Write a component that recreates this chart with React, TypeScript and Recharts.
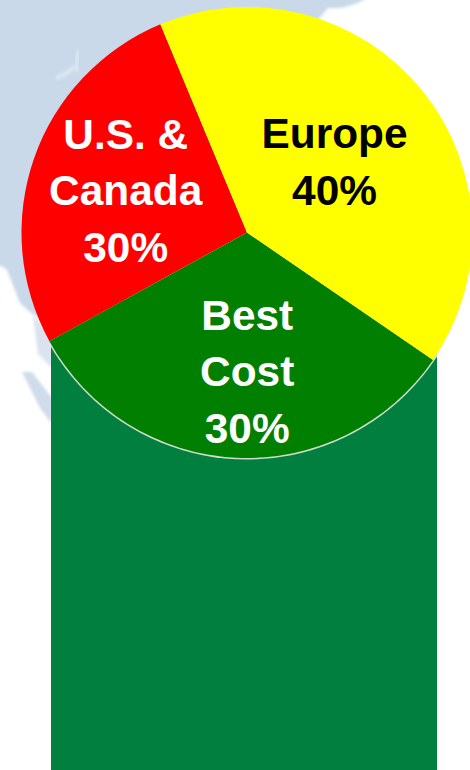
import React from "react";
import { PieChart, Pie, Cell } from "recharts";

const regions = ["U.S. & Canada", "Best Cost", "Europe"];
// Slice sizes as drawn in the picture (degrees of arc), printed labels below
const sliceSizes = [96.2, 116.8, 147];
const sliceColors = ["#ff0000", "#007f00", "#ffff00"];
const labelLines = [
  ["U.S. &", "Canada", "30%"],
  ["Best", "Cost", "30%"],
  ["Europe", "40%"],
];
const labelColors = ["#ffffff", "#ffffff", "#000000"];
const labelRadiusRatio = [0.57, 0.615, 0.5];
const labelShiftX = [0, 7, 0];

const data = regions.map((name, i) => ({ name, value: sliceSizes[i] }));

const FONT_SIZE = 42.4;
const LINE_GAP = 56.5;
const RAD = Math.PI / 180;

function renderLabel(props: any) {
  const { cx, cy, midAngle, outerRadius, index } = props;
  const r = outerRadius * labelRadiusRatio[index];
  const x = cx + r * Math.cos(midAngle * RAD) + labelShiftX[index];
  const y = cy - r * Math.sin(midAngle * RAD) + 0.5;
  const lines = labelLines[index];
  const top = y - ((lines.length - 1) * LINE_GAP) / 2;
  return (
    <text
      key={index}
      textAnchor="middle"
      fontFamily="'Liberation Sans', Arial, sans-serif"
      fontWeight={700}
      fontSize={FONT_SIZE}
      fill={labelColors[index]}
    >
      {lines.map((line, i) => (
        <tspan key={line} x={x} y={top + i * LINE_GAP} dominantBaseline="central">
          {line}
        </tspan>
      ))}
    </text>
  );
}

function Backdrop() {
  return (
    <svg width={470} height={770} style={{ position: "absolute", left: 0, top: 0 }}>
      <defs>
        <filter id="soft" x="-20%" y="-20%" width="140%" height="140%">
          <feGaussianBlur stdDeviation="1.5" />
        </filter>
        <filter id="thin" x="-60%" y="-60%" width="220%" height="220%">
          <feGaussianBlur stdDeviation="1.6" />
        </filter>
        <clipPath id="band">
          <rect x={51} y={300} width={386} height={470} />
        </clipPath>
      </defs>
      <rect width={470} height={770} fill="#ffffff" />
      <path
        d="M-5 -5 L372 -5 L358 3 L342 8 L328 8 L318 20 L200 120 L60 300 L45 322 L30 312 L20 303 L7 270 L3 267 L-5 264 Z"
        fill="#c9d9e9"
        filter="url(#soft)"
      />
      <path d="M22 372 L32 372 L52 398 L52 424 L40 408 Z" fill="#cfdcea" filter="url(#thin)" />
      <path d="M33 315 L52 335 L52 368 L38 354 Z" fill="#dae3ee" filter="url(#thin)" />
      <path d="M77 72 Q76 62 78 50" fill="none" stroke="#dfeaf3" strokeWidth={3} filter="url(#thin)" />
      <path d="M56 78 Q68 74 75 66" fill="none" stroke="#dfeaf3" strokeWidth={3.5} filter="url(#thin)" />
      <rect x={51} y={300} width={386} height={470} fill="#007f3f" />
      <circle cx={247} cy={232.5} r={227} fill="#cfdccb" clipPath="url(#band)" />
    </svg>
  );
}

export default function App() {
  return (
    <div style={{ position: "absolute", left: 0, top: 0, width: 470, height: 770, overflow: "hidden" }}>
      <Backdrop />
      <div style={{ position: "absolute", left: 0, top: 0 }}>
        <PieChart width={470} height={770} margin={{ top: 0, right: 0, bottom: 0, left: 0 }}>
          <Pie
            data={data}
            dataKey="value"
            nameKey="name"
            cx={247}
            cy={232.5}
            outerRadius={225.5}
            innerRadius={0}
            startAngle={112.6}
            endAngle={472.6}
            stroke="none"
            paddingAngle={0}
            label={renderLabel}
            labelLine={false}
            isAnimationActive={false}
          >
            {data.map((d, i) => (
              <Cell key={d.name} fill={sliceColors[i]} stroke="none" />
            ))}
          </Pie>
        </PieChart>
      </div>
    </div>
  );
}
